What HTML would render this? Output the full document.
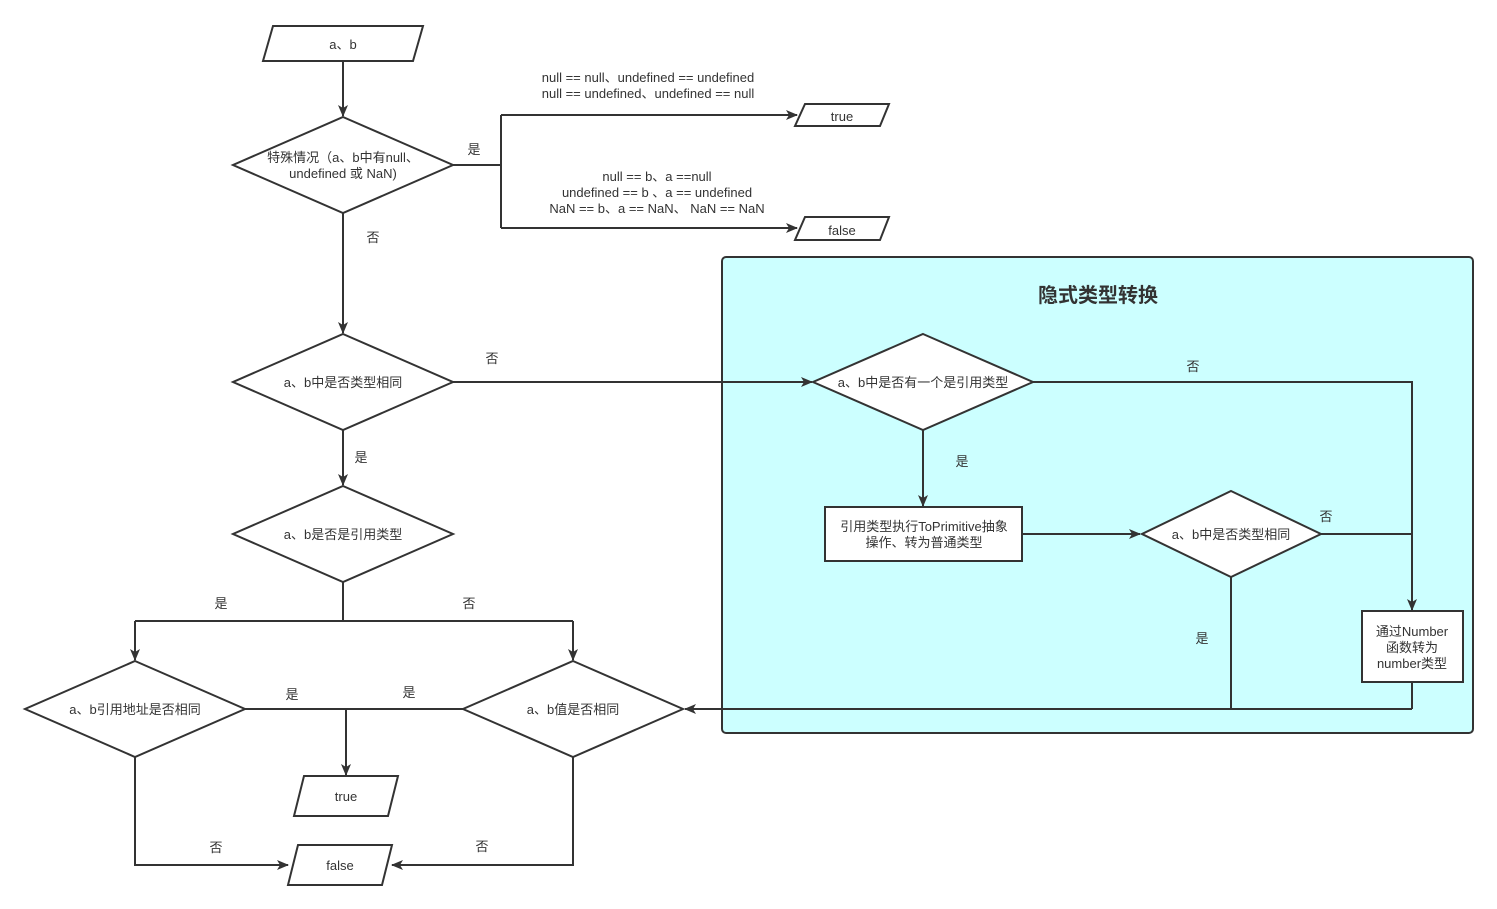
<!DOCTYPE html>
<html><head><meta charset="utf-8"><style>html,body{margin:0;padding:0;background:#fff}svg{display:block}text{font-family:"Liberation Sans","Noto Sans CJK SC",sans-serif;font-size:13px;fill:#333}</style></head><body>
<svg width="1497" height="909" viewBox="0 0 1497 909" xmlns="http://www.w3.org/2000/svg">
<defs><marker id="a" markerWidth="12" markerHeight="10" refX="11" refY="5" orient="auto" markerUnits="userSpaceOnUse"><path d="M0,0 L12,5 L0,10 L3,5 Z" fill="#333"/></marker></defs>
<rect x="722" y="257" width="751" height="476" rx="4" fill="#ccffff" stroke="#333" stroke-width="2"/>
<text x="1098" y="302" text-anchor="middle" style="font-size:20px;font-weight:bold">隐式类型转换</text>
<g fill="none" stroke="#333" stroke-width="2">
<path d="M343,61 V116" marker-end="url(#a)"/>
<path d="M453,165 H501 M501,115 V228"/>
<path d="M501,115 H797" marker-end="url(#a)"/>
<path d="M501,228 H797" marker-end="url(#a)"/>
<path d="M343,213 V333" marker-end="url(#a)"/>
<path d="M453,382 H812" marker-end="url(#a)"/>
<path d="M1033,382 H1412 V610" marker-end="url(#a)"/>
<path d="M923,430 V506" marker-end="url(#a)"/>
<path d="M1022,534 H1140" marker-end="url(#a)"/>
<path d="M1321,534 H1412"/>
<path d="M1231,577 V709 M1412,682 V709"/>
<path d="M1412,709 H685" marker-end="url(#a)"/>
<path d="M343,430 V485" marker-end="url(#a)"/>
<path d="M343,582 V621 M135,621 H573"/>
<path d="M135,621 V660" marker-end="url(#a)"/>
<path d="M573,621 V660" marker-end="url(#a)"/>
<path d="M245,709 H463"/>
<path d="M346,709 V775" marker-end="url(#a)"/>
<path d="M135,757 V865 H288" marker-end="url(#a)"/>
<path d="M573,757 V865 H392" marker-end="url(#a)"/>
</g>
<g fill="#fff" stroke="#333" stroke-width="2">
<polygon points="273,26 423,26 413,61 263,61"/>
<polygon points="343,117 453,165 343,213 233,165"/>
<polygon points="805,104 889,104 880,126 795,126"/>
<polygon points="805,217 889,217 880,240 795,240"/>
<polygon points="343,334 453,382 343,430 233,382"/>
<polygon points="923,334 1033,382 923,430 813,382"/>
<rect x="825" y="507" width="197" height="54"/>
<polygon points="1231,491 1321,534 1231,577 1142,534"/>
<rect x="1362" y="611" width="101" height="71"/>
<polygon points="343,486 453,534 343,582 233,534"/>
<polygon points="135,661 245,709 135,757 25,709"/>
<polygon points="573,661 683,709 573,757 463,709"/>
<polygon points="304,776 398,776 388,816 294,816"/>
<polygon points="298,845 392,845 382,885 288,885"/>
</g>
<g text-anchor="middle">
<text x="343" y="49">a、b</text>
<text x="343" y="162">特殊情况（a、b中有null、</text>
<text x="343" y="178">undefined 或 NaN)</text>
<text x="474" y="154">是</text>
<text x="648" y="82">null == null、undefined == undefined</text>
<text x="648" y="98">null == undefined、undefined == null</text>
<text x="842" y="121">true</text>
<text x="657" y="181">null == b、a ==null</text>
<text x="657" y="197">undefined == b 、a == undefined</text>
<text x="657" y="213">NaN == b、a == NaN、 NaN == NaN</text>
<text x="842" y="235">false</text>
<text x="373" y="242">否</text>
<text x="343" y="387">a、b中是否类型相同</text>
<text x="492" y="363">否</text>
<text x="923" y="387">a、b中是否有一个是引用类型</text>
<text x="1193" y="371">否</text>
<text x="962" y="466">是</text>
<text x="924" y="531">引用类型执行ToPrimitive抽象</text>
<text x="924" y="547">操作、转为普通类型</text>
<text x="1231" y="539">a、b中是否类型相同</text>
<text x="1326" y="521">否</text>
<text x="1202" y="643">是</text>
<text x="1412" y="636">通过Number</text>
<text x="1412" y="652">函数转为</text>
<text x="1412" y="668">number类型</text>
<text x="361" y="462">是</text>
<text x="343" y="539">a、b是否是引用类型</text>
<text x="221" y="608">是</text>
<text x="469" y="608">否</text>
<text x="135" y="714">a、b引用地址是否相同</text>
<text x="573" y="714">a、b值是否相同</text>
<text x="292" y="699">是</text>
<text x="409" y="697">是</text>
<text x="346" y="801">true</text>
<text x="340" y="870">false</text>
<text x="216" y="852">否</text>
<text x="482" y="851">否</text>
</g>
</svg>
</body></html>
